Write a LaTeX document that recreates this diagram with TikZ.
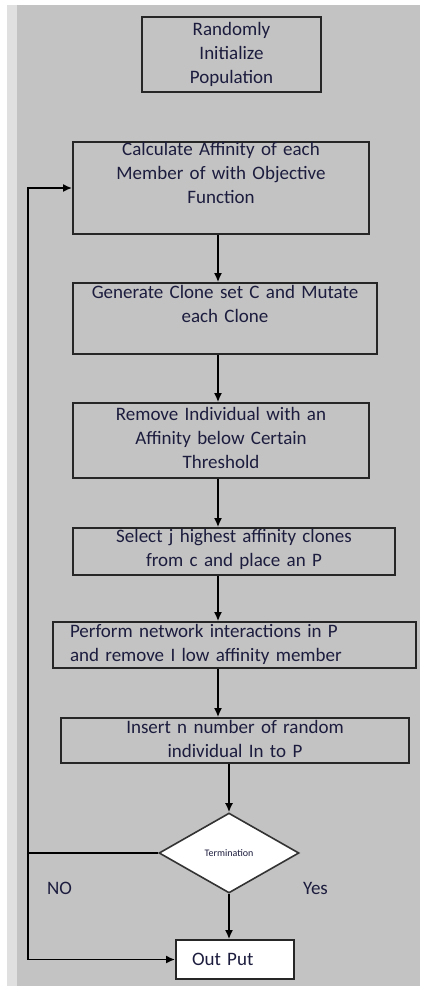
\documentclass[tikz,border=0pt]{standalone}
\usepackage{fontspec}
\setmainfont{Carlito}
\usetikzlibrary{shapes.geometric, arrows.meta}
\definecolor{bggray}{RGB}{195,195,195}
\definecolor{stripgray}{RGB}{224,224,224}
\definecolor{txtblue}{RGB}{28,28,62}

\begin{document}
\begin{tikzpicture}[
        x=0.5pt, y=-0.5pt,
        box/.style={draw=black!85, line width=0.9pt, inner sep=0pt, align=center, text=txtblue,
            font=\fontsize{9.5}{12}\selectfont},
        decision/.style={diamond, draw=black!80, line width=0.8pt, fill=white, inner sep=0pt,
            aspect=1.75, minimum width=70pt, minimum height=40pt, text=txtblue,
            font=\fontsize{5}{6}\selectfont},
        arr/.style={-{Latex[length=4.5pt,width=4pt]}, line width=0.8pt},
        lbl/.style={text=txtblue, font=\fontsize{9.5}{12}\selectfont},
    ]
        % Background
        \useasboundingbox (0,0) rectangle (420,986);
        \fill[stripgray] (7,5) rectangle (17,986);
        \fill[bggray] (17,5) rectangle (420,986);

        % Vertical flow
        \node[box, text width=89.5pt, text height=9pt, text depth=28.5pt] (init) at (231.5,54.5)
            {Randomly\\ Initialize\\ Population};
        \node[box, text width=148pt, text height=6.5pt, text depth=39.5pt] (calc) at (221,188)
            {Calculate Affinity of each\\ Member of with Objective\\ Function};
        \node[box, text width=152pt, text height=7.5pt, text depth=28pt] (clone) at (225,318.5)
            {Generate Clone set C and Mutate\\ each Clone};
        \node[box, text width=148pt, text height=8.5pt, text depth=29pt] (remove) at (221,440.5)
            {Remove Individual with an\\ Affinity below Certain\\ Threshold};
        \node[box, text width=161pt, text height=7pt, text depth=16.5pt] (select) at (234,551.5)
            {Select j highest affinity clones\\ from c and place an P};
        \node[box, text width=164.5pt, inner xsep=8.5pt, align=left, text height=7.5pt, text depth=15.5pt] (perform) at (234.5,645)
            {Perform network interactions in P\\ and remove I low affinity member};
        \node[box, text width=174pt, text height=7.5pt, text depth=15pt] (insert) at (235,740.5)
            {Insert n number of random\\ individual In to P};
        % Decision and output
        \node[decision] (term) at (229,853) {Termination};
        \node[box, fill=white, text width=43pt, inner xsep=8pt, align=left, minimum height=19.5pt] (out) at (235,959.5)
            {Out Put};
        \node[lbl] (no) at (59.5,888) {NO};
        \node[lbl] (yes) at (315.5,888) {Yes};

        \coordinate (spine) at (218,0);
        \coordinate (loop) at (28,191);

        \draw[arr] (calc.south -| spine) -- (clone.north -| spine);
        \draw[arr] (clone.south -| spine) -- (remove.north -| spine);
        \draw[arr] (remove.south -| spine) -- (select.north -| spine);
        \draw[arr] (select.south -| spine) -- (perform.north -| spine);
        \draw[arr] (perform.south -| spine) -- (insert.north -| spine);
        \draw[arr] (term.north |- insert.south) -- (term.north);
        \draw[arr] (term.south) -- (out.north -| term.south);
        % Loop back
        \draw[line width=0.9pt] (term.west) -- (term.west -| loop);
        \draw[arr, line width=0.9pt] (term.west -| loop) |- (calc.west);
        \draw[arr, line width=0.9pt] (term.west -| loop) |- (out.west);
    \end{tikzpicture}
\end{document}
